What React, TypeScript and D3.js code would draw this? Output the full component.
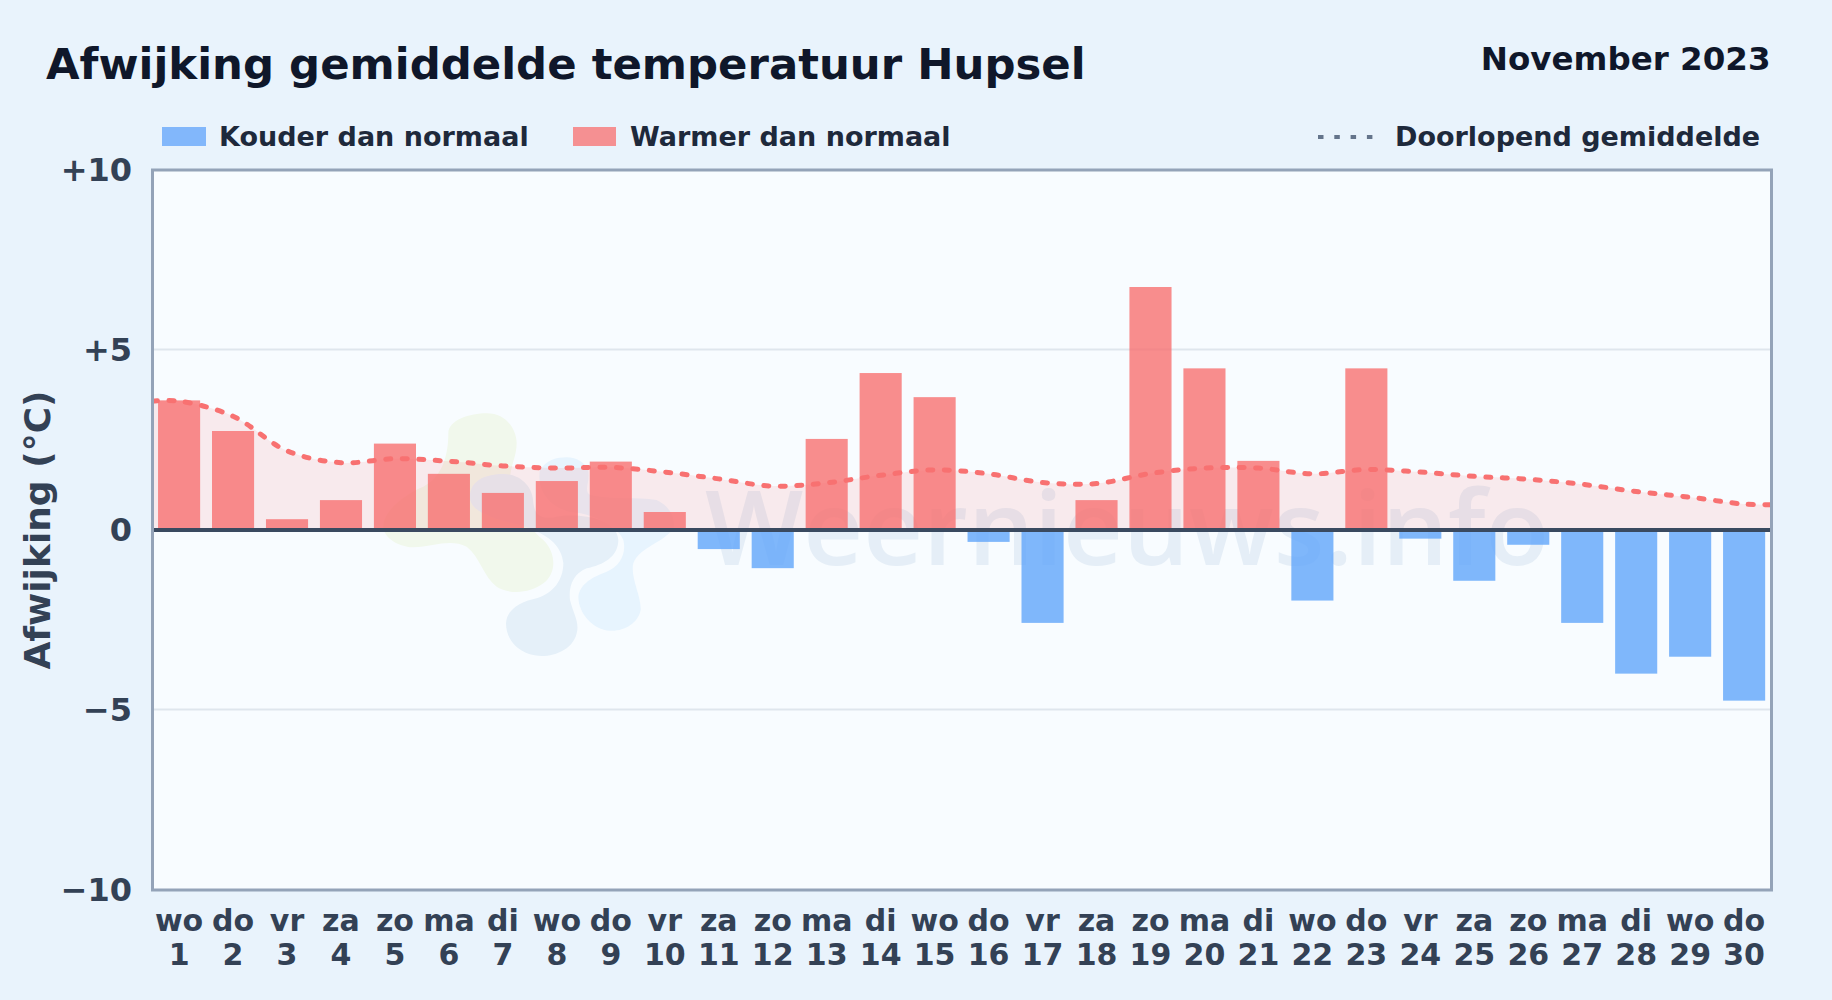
import React from "react";
import * as d3 from "d3";

const weekdays = ["wo","do","vr","za","zo","ma","di","wo","do","vr","za","zo","ma","di","wo","do","vr","za","zo","ma","di","wo","do","vr","za","zo","ma","di","wo","do"];
const days = d3.range(1, 31);
const anomaly = [3.6,2.75,0.3,0.83,2.4,1.56,1.03,1.36,1.9,0.5,-0.53,-1.06,2.53,4.36,3.69,-0.33,-2.58,0.83,6.75,4.49,1.92,-1.96,4.49,-0.24,-1.41,-0.41,-2.58,-3.99,-3.52,-4.74];
const runningMean = [3.58,3.16,2.2,1.87,1.98,1.91,1.78,1.72,1.74,1.61,1.42,1.22,1.31,1.52,1.67,1.56,1.32,1.29,1.57,1.72,1.72,1.56,1.68,1.61,1.49,1.41,1.27,1.07,0.91,0.72];
const edgeStart = 3.58;
const edgeEnd = 0.7;
const yTicks = [10, 5, 0, -5, -10];
const yTickLabels = ["+10", "+5", "0", "−5", "−10"];

const W = 1832, H = 1000;
const FONT = "'DejaVu Sans', sans-serif";
const L = 152.5, R = 1771.5, T = 170, B = 890;

export default function App() {
  const x = d3.scaleBand<number>().domain(days).range([L - 0.4, R - 0.4]).paddingInner(0.22).paddingOuter(0.11);
  const y = d3.scaleLinear().domain([-10, 10]).range([B, T]);
  const cx = (d: number) => (x(d) as number) + x.bandwidth() / 2;
  const pts: [number, number][] = [
    [L, y(edgeStart)],
    ...runningMean.map((v, i) => [cx(days[i]), y(v)] as [number, number]),
    [R, y(edgeEnd)],
  ];
  const line = d3.line().curve(d3.curveCatmullRom.alpha(0.5));
  const area = d3.area().curve(d3.curveCatmullRom.alpha(0.5)).y0(y(0));
  return (
    <svg width={W} height={H} viewBox={`0 0 ${W} ${H}`} style={{ position: "absolute", left: 0, top: 0, display: "block" }} fontFamily={FONT}>
      <defs>
        <clipPath id="plot"><rect x={L} y={T} width={R - L} height={B - T} /></clipPath>
      </defs>
      <rect width={W} height={H} fill="#e9f3fc" />
      <text x={46} y={79} fontSize={43.4} fontWeight={700} fill="#0f172a">Afwijking gemiddelde temperatuur Hupsel</text>
      <text x={1770.5} y={70} fontSize={32.5} fontWeight={700} fill="#0f172a" textAnchor="end">November 2023</text>

      <rect x={162} y={127} width={44} height={19} fill="#82b7fb" />
      <text x={219} y={146} fontSize={27} fontWeight={700} fill="#1e293b">Kouder dan normaal</text>
      <rect x={573} y={127} width={43} height={19} fill="#f59092" />
      <text x={630} y={146} fontSize={27} fontWeight={700} fill="#1e293b">Warmer dan normaal</text>
      <line x1={1318} x2={1374} y1={137} y2={137} stroke="#64748b" strokeWidth={4} strokeDasharray="5.5 10.8" />
      <text x={1395} y={146} fontSize={27} fontWeight={700} fill="#1e293b">Doorlopend gemiddelde</text>

      <rect x={L} y={T} width={R - L} height={B - T} fill="#f8fcff" />
      <g clipPath="url(#plot)">
        <g transform="translate(370,400) scale(0.33333)">
          <path d="M235 100 C235 60 300 40 350 40 C410 40 440 90 440 130 C440 170 420 200 420 240 C420 300 470 380 520 420 C560 460 560 520 520 550 C480 580 420 585 380 560 C340 530 330 470 290 440 C240 415 190 440 130 442 C80 440 40 410 40 380 C40 330 110 280 160 260 C220 230 235 160 235 100Z" fill="#f1f8ec" />
          <path d="M300 290 C300 240 350 222 400 222 C450 222 490 260 490 310 C495 350 520 360 560 350 C620 340 740 350 745 420 C745 470 700 495 650 505 C610 520 595 560 600 600 C610 640 625 660 622 690 C615 745 560 768 515 768 C460 768 408 730 408 670 C410 630 450 605 500 595 C550 580 580 540 580 490 C575 440 540 410 480 385 C420 365 300 350 300 290Z" fill="#e5f0f9" />
          <path d="M510 210 C530 180 560 172 590 172 C620 172 650 190 655 215 C660 250 640 270 660 285 C720 300 800 290 860 300 C900 320 915 350 910 385 C880 430 810 440 790 490 C780 530 815 590 812 630 C805 670 760 695 720 692 C670 690 625 640 625 590 C630 550 670 530 710 515 C750 500 770 460 760 420 C740 370 660 340 600 335 C530 320 500 260 510 210Z" fill="#e7f4fe" />
        </g>
        <text x={1127} y={565} textAnchor="middle" fontFamily="'Open Sans', sans-serif" fontSize={104} fontWeight={600} fill="#2563a8" opacity={0.085}>Weernieuws.info</text>
      </g>
      {yTicks.filter((t) => t === 5 || t === -5).map((t) => (
        <line key={t} x1={L} x2={R} y1={y(t) - 0.5} y2={y(t) - 0.5} stroke="#dfe6ed" strokeWidth={2} />
      ))}
      <path d={area(pts) as string} fill="#f87171" fillOpacity={0.13} />
      {anomaly.map((v, i) => (
        <rect key={i} x={x(days[i])} y={y(Math.max(v, 0))} width={x.bandwidth()} height={Math.abs(y(v) - y(0))} fill={v >= 0 ? "#f87171" : "#60a5fa"} fillOpacity={0.8} />
      ))}
      <path d={line(pts) as string} fill="none" stroke="#f87171" strokeWidth={5} strokeDasharray="5 11.5" strokeLinecap="round" clipPath="url(#plot)" />
      <line x1={L} x2={R} y1={y(0)} y2={y(0)} stroke="#3a4a60" strokeWidth={4} />
      <rect x={L} y={T} width={R - L} height={B - T} fill="none" stroke="#94a3b8" strokeWidth={3} />

      {yTicks.map((t, i) => (
        <text key={t} x={132} y={y(t) - 0.5} dy="0.36em" textAnchor="end" fontSize={32} fontWeight={700} fill="#334155">{yTickLabels[i]}</text>
      ))}
      {days.map((d, i) => (
        <g key={d} fontSize={30} fontWeight={700} fill="#334155" textAnchor="middle">
          <text x={cx(d)} y={931}>{weekdays[i]}</text>
          <text x={cx(d)} y={965}>{d}</text>
        </g>
      ))}
      <text transform={`translate(50,${y(0)}) rotate(-90)`} textAnchor="middle" fontSize={36} fontWeight={700} fill="#334155">Afwijking (°C)</text>
    </svg>
  );
}
